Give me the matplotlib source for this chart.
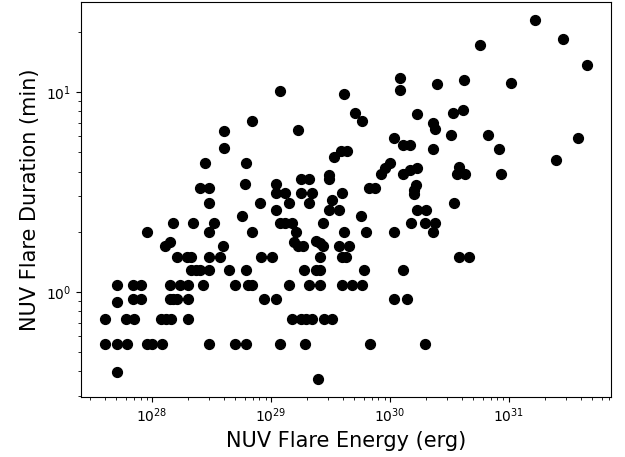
import numpy as np
import matplotlib
matplotlib.use("Agg")
import matplotlib.pyplot as plt

# NUV flare energies (erg)
energy = [
    # low-energy cluster
    2.99e28, 5.69e28, 1.51e28, 2.19e28, 3.31e28, 9.0e27, 2.99e28, 6.98e28,
    1.29e28, 1.42e28, 3.91e28, 3.76e28, 1.61e28, 1.95e28, 2.14e28, 2.99e28,
    2.11e28, 2.34e28, 2.53e28, 2.99e28, 4.45e28, 6.15e28, 5.05e27, 6.97e27,
    8.13e27, 1.42e28, 1.72e28, 2.00e28, 2.69e28, 5.00e28, 6.38e28, 6.98e28,
    5.05e27, 6.97e27, 8.13e27, 1.42e28, 1.51e28, 1.63e28, 2.00e28, 4.00e27,
    6.05e27, 7.06e27, 1.20e28, 1.31e28, 1.43e28, 2.00e28, 4.00e27, 5.05e27,
    6.12e27, 9.0e27, 1.00e28, 1.21e28, 2.99e28, 5.00e28, 6.15e28, 5.05e27,
    6.98e28, 4.00e28, 4.00e28, 2.80e28, 6.15e28, 2.54e28, 3.00e28, 6.04e28,
    # mid-energy
    1.21e30, 1.21e30, 1.20e29, 4.13e29, 5.08e29, 5.87e29, 1.68e30, 1.70e29,
    1.08e30, 1.28e30, 1.48e30, 3.40e29, 3.84e29, 4.33e29, 3.10e29, 3.10e29,
    1.79e29, 2.09e29, 1.10e29, 1.10e29, 1.30e29, 1.79e29, 2.22e29, 3.95e29,
    6.65e29, 7.52e29, 8.39e29, 9.15e29, 9.98e29, 1.29e30, 1.48e30, 1.68e30,
    1.66e30, 1.60e30, 1.58e30,
    8.05e28, 1.42e29, 1.10e29, 2.09e29, 3.27e29, 3.07e29, 3.73e29, 5.70e29,
    1.68e30, 1.99e30, 1.18e29, 1.31e29, 1.51e29, 2.71e29, 1.50e30, 1.98e30,
    1.61e29, 4.13e29, 6.34e29, 1.08e30, 1.57e29, 1.68e29, 1.86e29, 2.40e29,
    2.57e29, 2.74e29, 3.73e29, 4.52e29, 8.26e28, 1.02e29, 2.60e29, 3.97e29,
    4.23e29, 1.91e29, 2.38e29, 2.57e29, 6.00e29, 1.28e30, 1.42e29, 2.09e29,
    2.60e29, 3.97e29, 4.76e29, 5.85e29, 8.70e28, 1.10e29, 1.08e30, 1.39e30,
    1.49e29, 1.79e29, 1.96e29, 2.20e29, 2.77e29, 3.24e29, 1.20e29, 1.93e29,
    6.75e29, 1.96e30, 2.50e29,
    # high-energy
    1.67e31, 2.84e31, 4.49e31, 5.68e30, 2.47e30, 4.17e30, 1.05e31, 3.37e30,
    4.09e30, 2.29e30, 2.38e30, 3.24e30, 6.71e30, 3.79e31, 2.29e30, 8.30e30,
    2.50e31, 3.78e30, 3.64e30, 4.25e30, 8.57e30,
    3.46e30, 2.41e30, 2.29e30, 3.84e30, 4.59e30,
]

# NUV flare durations (min), same order as energy
duration = [
    2.77, 2.39, 2.20, 2.20, 2.20, 1.99, 1.99, 1.99,
    1.69, 1.77, 1.69, 1.50, 1.50, 1.50, 1.50, 1.50,
    1.29, 1.29, 1.29, 1.29, 1.29, 1.29, 1.08, 1.08,
    1.08, 1.08, 1.08, 1.08, 1.08, 1.08, 1.08, 1.08,
    0.89, 0.92, 0.92, 0.92, 0.92, 0.92, 0.92, 0.73,
    0.73, 0.73, 0.73, 0.73, 0.73, 0.73, 0.55, 0.55,
    0.55, 0.55, 0.55, 0.55, 0.55, 0.55, 0.55, 0.395,
    7.16, 6.38, 5.26, 4.39, 4.39, 3.29, 3.29, 3.47,
    11.78, 10.20, 10.12, 9.74, 7.89, 7.16, 7.72, 6.44,
    5.90, 5.45, 5.45, 4.75, 5.04, 5.04, 3.86, 3.68,
    3.69, 3.69, 3.475, 3.105, 3.105, 3.105, 3.105, 3.105,
    3.29, 3.29, 3.88, 4.17, 4.40, 3.89, 4.07, 4.17,
    3.44, 3.25, 3.08,
    2.77, 2.77, 2.57, 2.77, 2.89, 2.56, 2.56, 2.39,
    2.57, 2.57, 2.20, 2.20, 2.20, 2.20, 2.20, 2.20,
    1.99, 1.99, 1.99, 1.99, 1.77, 1.69, 1.69, 1.80,
    1.75, 1.69, 1.69, 1.69, 1.50, 1.50, 1.50, 1.50,
    1.50, 1.29, 1.29, 1.29, 1.29, 1.29, 1.08, 1.08,
    1.08, 1.08, 1.08, 1.08, 0.92, 0.92, 0.92, 0.92,
    0.73, 0.73, 0.73, 0.73, 0.73, 0.73, 0.55, 0.55,
    0.55, 0.55, 0.367,
    23.0, 18.5, 13.6, 17.2, 11.0, 11.5, 11.1, 7.89,
    8.10, 7.00, 6.56, 6.10, 6.10, 5.89, 5.19, 5.19,
    4.59, 4.22, 3.88, 3.88, 3.88,
    2.77, 2.20, 1.99, 1.50, 1.50,
]

fig = plt.figure(figsize=(6.25, 4.57), dpi=100)
ax = fig.add_axes([0.129, 0.132, 0.848, 0.864])

ax.scatter(energy, duration, color='black', s=50)
ax.set_xscale('log')
ax.set_yscale('log')

ax.set_xlabel('NUV Flare Energy (erg)', fontsize=15)
ax.set_ylabel('NUV Flare Duration (min)', fontsize=15)

fig.savefig('out.png', dpi=100)
